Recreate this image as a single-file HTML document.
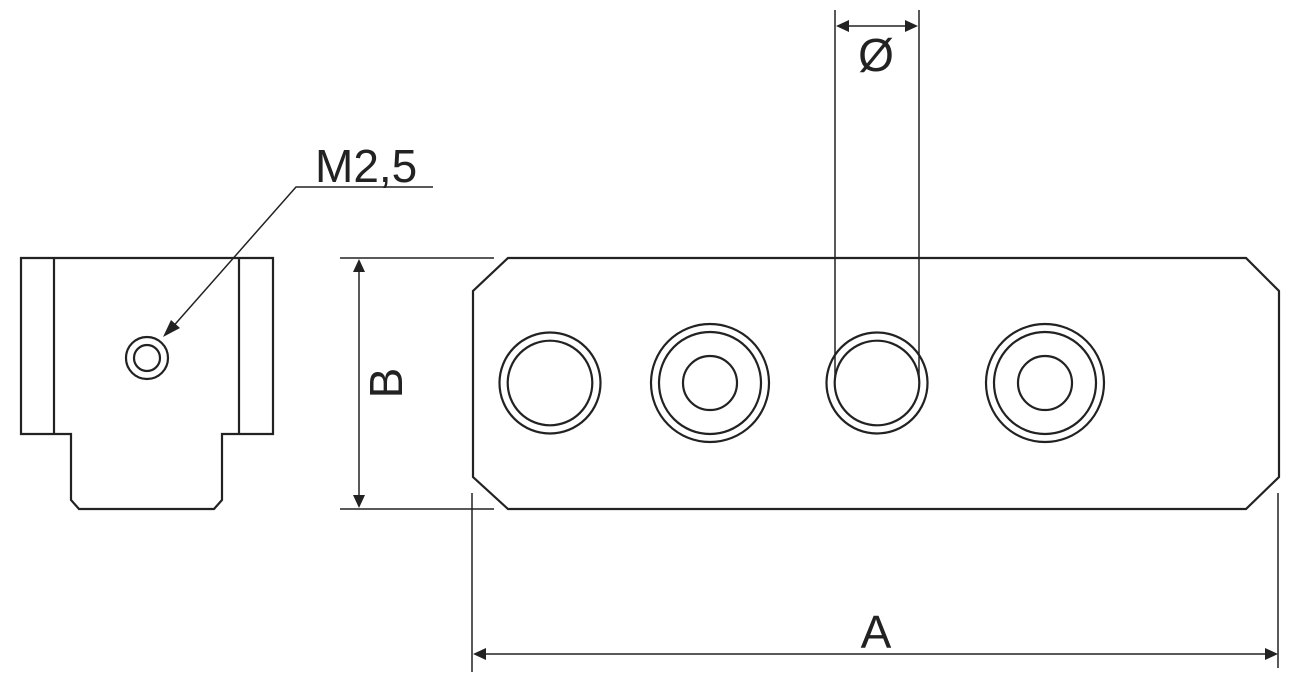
<!DOCTYPE html>
<html><head><meta charset="utf-8"><style>html,body{margin:0;padding:0;background:#fff}svg{display:block}</style></head>
<body>
<svg width="1300" height="682" viewBox="0 0 1300 682" xmlns="http://www.w3.org/2000/svg">
<g fill="none" stroke="#222" stroke-width="2.2">
<path d="M71,434 V500 L79,509 H214 L222,500 V434 H273 V258 H21 V434 Z"/>
<line x1="54" y1="258" x2="54" y2="434"/>
<line x1="239" y1="258" x2="239" y2="434"/>
<circle cx="147" cy="358" r="21"/>
<circle cx="147" cy="358" r="13"/>
<path d="M508,258 H1246 L1279,291 V477 L1246,509 H508 L473,477 V291 Z"/>
<circle cx="550" cy="383" r="50.5"/><circle cx="550" cy="383" r="42.3"/>
<circle cx="710" cy="383" r="59"/><circle cx="710" cy="383" r="51"/><circle cx="710" cy="383" r="27"/>
<circle cx="877" cy="383" r="50.5"/><circle cx="877" cy="383" r="42.3"/>
<circle cx="1045" cy="383" r="59"/><circle cx="1045" cy="383" r="51"/><circle cx="1045" cy="383" r="27"/>
</g>
<g fill="none" stroke="#222" stroke-width="1.5">
<polyline points="433,187 296,187 170,330"/>
<line x1="340" y1="258" x2="494" y2="258"/>
<line x1="340" y1="509" x2="494" y2="509"/>
<line x1="359" y1="270" x2="359" y2="497"/>
<line x1="472" y1="493" x2="472" y2="672"/>
<line x1="1278" y1="493" x2="1278" y2="668"/>
<line x1="484" y1="654" x2="1266" y2="654"/>
<line x1="835" y1="10" x2="835" y2="380"/>
<line x1="919" y1="10" x2="919" y2="380"/>
<line x1="847" y1="26" x2="907" y2="26"/>
</g>
<g fill="#222">
<polygon points="163,337 171,320 180,328"/>
<polygon points="359,259 353,272 365,272"/>
<polygon points="359,508 353,495 365,495"/>
<polygon points="473,654 486,648 486,660"/>
<polygon points="1278,654 1265,648 1265,660"/>
<polygon points="836,26 849,20 849,32"/>
<polygon points="918,26 905,20 905,32"/>
</g>
<g font-family="Liberation Sans, sans-serif" font-size="46" fill="#222">
<text x="315" y="182">M2,5</text>
<text x="876" y="71" text-anchor="middle">Ø</text>
<text x="876" y="648" text-anchor="middle">A</text>
<text transform="translate(402,383) rotate(-90)" text-anchor="middle">B</text>
</g>
</svg>
</body></html>
